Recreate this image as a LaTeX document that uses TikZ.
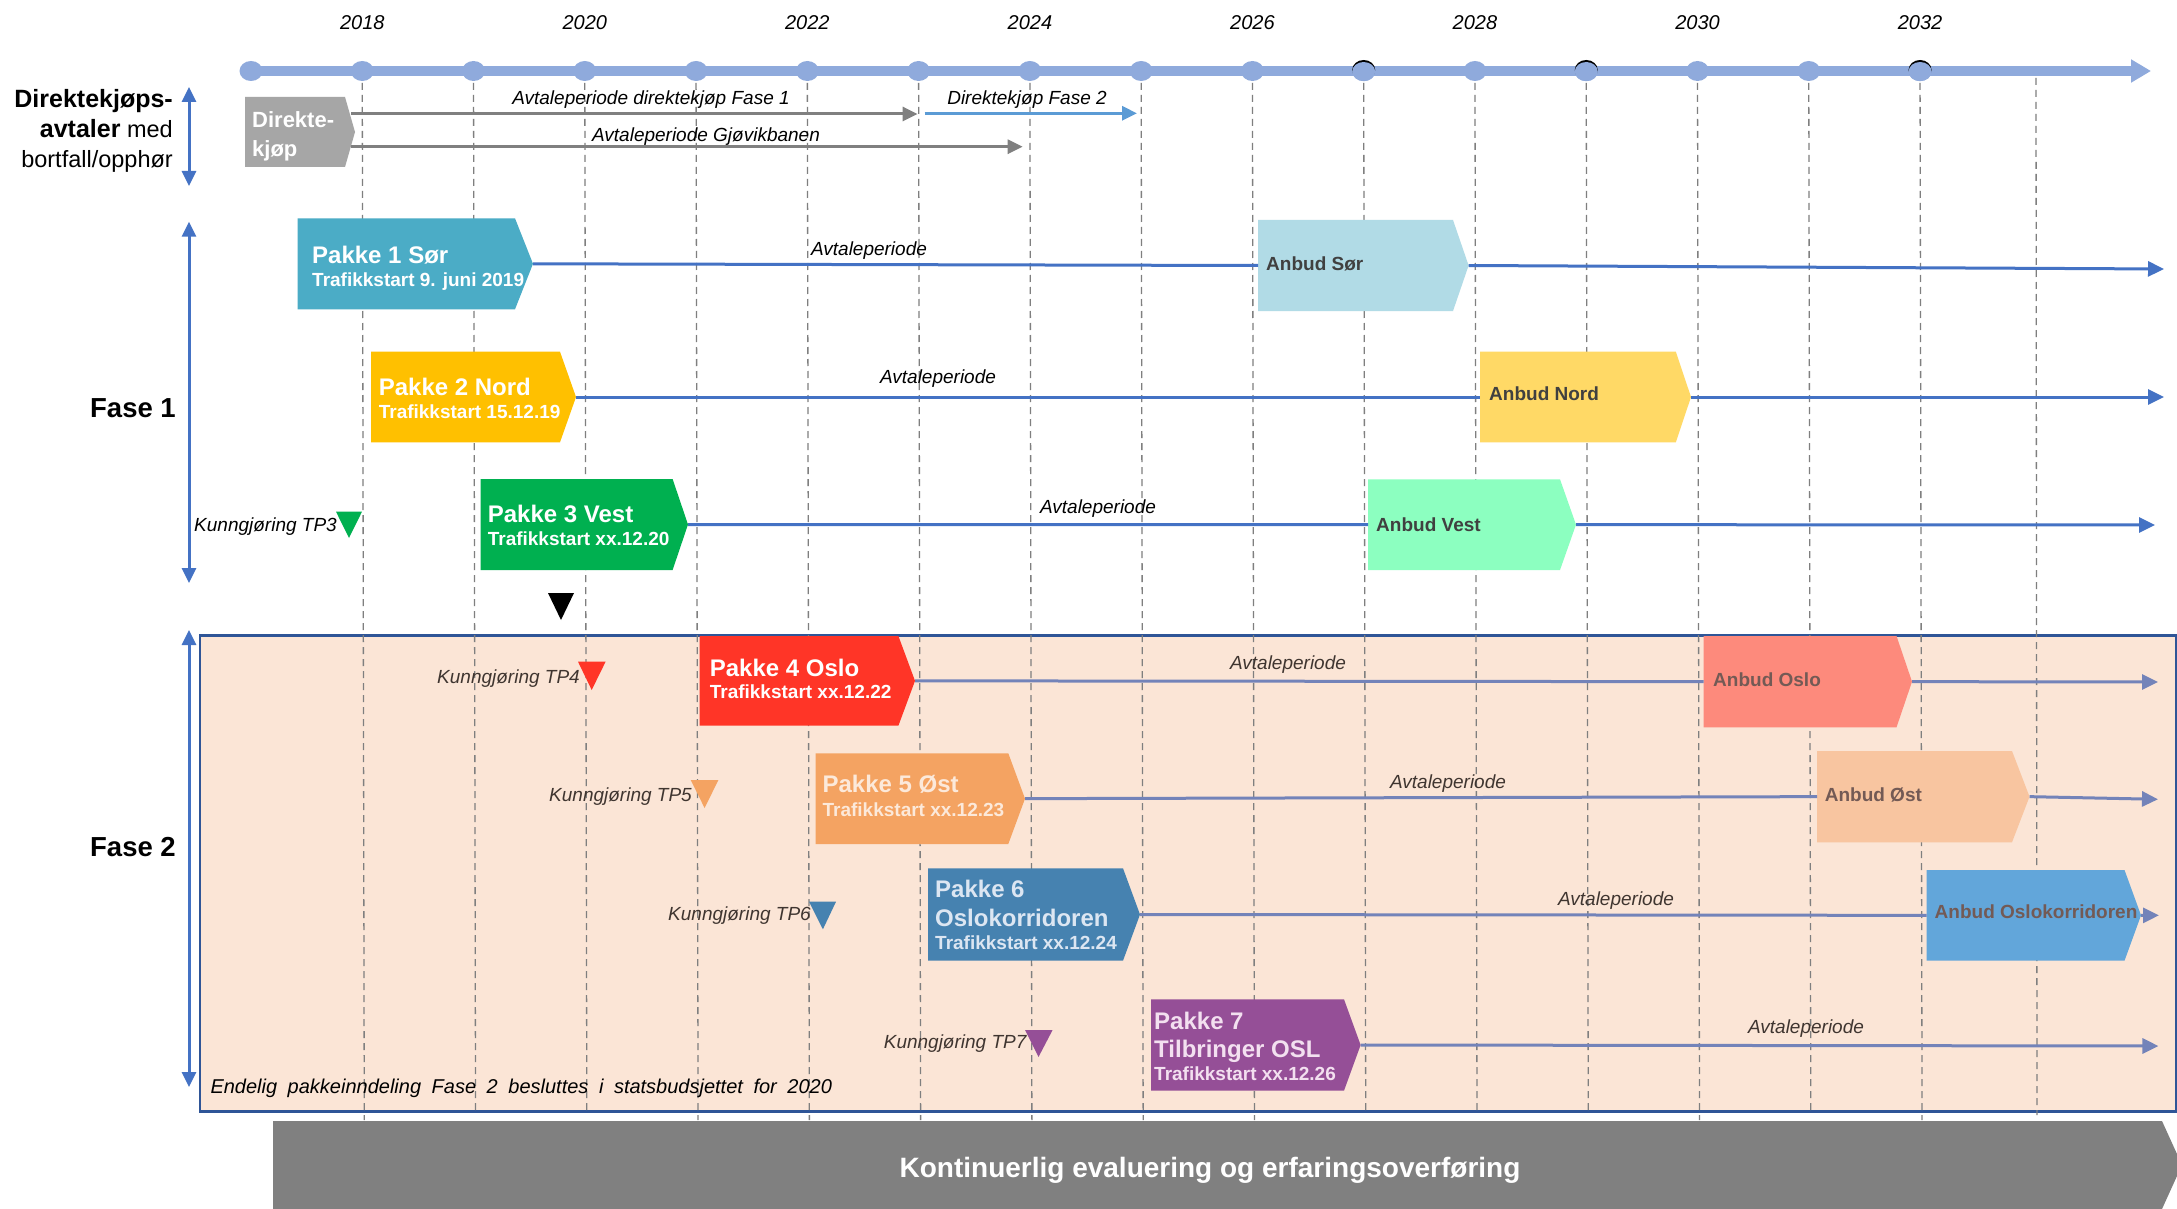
\documentclass[tikz,border=0pt]{standalone}
\usepackage{fontspec}
\setmainfont{Liberation Sans}
\newfontfamily\widefont[WordSpace=1.9]{Liberation Sans}
\usetikzlibrary{arrows.meta,calc,shapes.geometric}
\newcommand{\myfs}[1]{\fontsize{#1}{#1}\selectfont}
\definecolor{tlc}{HTML}{8FAADC}
\definecolor{dkgray}{HTML}{A6A6A6}
\definecolor{garr}{HTML}{808080}
\definecolor{bluea}{HTML}{4472C4}
\definecolor{lbluea}{HTML}{5B9BD5}
\definecolor{f2line}{HTML}{7383B9}
\definecolor{f2fill}{HTML}{FBE5D6}
\definecolor{f2border}{HTML}{2F5597}
\definecolor{cA}{HTML}{4BACC6}
\definecolor{cB}{HTML}{FFC000}
\definecolor{cC}{HTML}{00B050}
\definecolor{cD}{HTML}{FF3527}
\definecolor{cE}{HTML}{F4A362}
\definecolor{cF}{HTML}{4682B0}
\definecolor{cG}{HTML}{954F97}
\definecolor{aA}{HTML}{B1DBE6}
\definecolor{aB}{HTML}{FFD966}
\definecolor{aC}{HTML}{8CFFC0}
\definecolor{aD}{HTML}{FD8A7C}
\definecolor{aE}{HTML}{F8C5A0}
\definecolor{aF}{HTML}{62A6DA}
\definecolor{anbtxt}{HTML}{404040}
\definecolor{anbtxtb}{HTML}{735A55}
\definecolor{f2txt}{HTML}{3F3530}
\definecolor{paleE}{HTML}{FCE9DA}
\definecolor{paleF}{HTML}{DCE6F2}
\definecolor{paleG}{HTML}{F3E0F0}
\definecolor{dashc}{HTML}{7F7F7F}
\newcommand{\pentbox}[7]{%
  \node[inner sep=0pt,outer sep=0pt,minimum width={(#4-#2)*1pt},minimum height={(#6-#3)*1pt},anchor=north west] (#1) at (#2,#3) {};
  \fill[#7] (#1.north west) -- (#1.north east) -- (#5,{(#3+#6)/2}) -- (#1.south east) -- (#1.south west) -- cycle;
  \coordinate (#1-tip) at (#5,{(#3+#6)/2});
}
\tikzset{
  ttl/.style={anchor=base west,inner sep=0pt,font=\bfseries\myfs{24},text=white},
  sub/.style={anchor=base west,inner sep=0pt,font=\bfseries\myfs{19},text=white},
  anb/.style={anchor=base west,inner sep=0pt,font=\bfseries\myfs{19},text=anbtxt},
  per/.style={anchor=base,inner sep=0pt,font=\itshape\myfs{19}},
  kun/.style={anchor=base east,inner sep=0pt,font=\itshape\myfs{19}},
  yr/.style={anchor=base,inner sep=0pt,font=\itshape\myfs{20}},
  barr/.style={bluea,line width=3pt},
  farr/.style={f2line,line width=3pt},
  tip/.style={-{Triangle[length=16pt,width=15pt]}},
  varr/.style={bluea,line width=3pt,{Triangle[length=15pt,width=14pt]}-{Triangle[length=15pt,width=14pt]}},
  dotn/.style={ellipse,fill=tlc,minimum width=23pt,minimum height=20pt,inner sep=0pt},
}
\begin{document}
\begin{tikzpicture}[x=1pt,y=-1pt]
\useasboundingbox (0,0) rectangle (2177,1209);
\fill[white] (0,0) rectangle (2177,1209);
% Fase 2 background box
\node[fill=f2fill,draw=f2border,line width=2.5pt,inner sep=0pt,minimum width=1976pt,minimum height=475.7pt,anchor=north west] (f2box) at (198.5,634.3) {};
% dashed guide lines
\foreach \i/\ye in {1/1120,2/1110,3/1110,4/1120,5/1120,6/1120,7/1120,8/1120,9/1120,10/1110,11/1110,12/1110,13/1120,14/1110,15/1120}
  \draw[dashc,line width=1.3pt,dash pattern=on 7pt off 5pt] ({251+111.27*\i},83) -- ({251+111.27*\i+2},\ye);
\draw[dashc,line width=1.3pt,dash pattern=on 7pt off 5pt] (2036,78) -- (2037,1115);
% timeline
\coordinate (tlend) at (2151,71);
\draw[tlc,line width=10pt,-{Triangle[length=20pt,width=22pt]}] (251,71) -- (tlend);
\foreach \i in {0,...,15} {
  \node[dotn] (d\i) at ({251+111.27*\i},71) {};
}
\foreach \i in {10,12,15} {
  \fill[black] ({251+111.27*\i},70) ellipse (11.5pt and 10pt);
  \fill[tlc] ({251+111.27*\i},71.6) ellipse (11.5pt and 9.6pt);
}
\foreach \i/\y in {1/2018,3/2020,5/2022,7/2024,9/2026,11/2028,13/2030,15/2032} {
  \node[yr] (yr\y) at ({251+111.27*(\i-1)+111.27},29.5) {\y};
}
% left labels
\node[anchor=base east,inner sep=0pt,font=\bfseries\myfs{25}] (lab1) at (173,108) {Direktekjøps-};
\node[anchor=base east,inner sep=0pt] (lab2) at (173,138) {{\bfseries\myfs{25}avtaler}{\myfs{23.5} med}};
\node[anchor=base east,inner sep=0pt,font=\myfs{23.5}] (lab3) at (173,168) {bortfall/opphør};
\node[anchor=base east,inner sep=0pt,font=\bfseries\myfs{27.5}] (fase1) at (176,417) {Fase 1};
\node[anchor=base east,inner sep=0pt,font=\bfseries\myfs{27.5}] (fase2) at (176,856) {Fase 2};
\coordinate (va1) at (189,87); \coordinate (va2) at (189,186);
\coordinate (vb1) at (189,221.7); \coordinate (vb2) at (189,583);
\coordinate (vc1) at (189,630); \coordinate (vc2) at (189,1087);
\draw[varr] (va1) -- (va2);
\draw[varr] (vb1) -- (vb2);
\draw[varr] (vc1) -- (vc2);
% Direktekjop row
\pentbox{dk}{245}{97}{345}{355}{167}{dkgray}
\node[anchor=base west,inner sep=0pt,font=\bfseries\myfs{22},text=white] (dkt1) at (252,128) {Direkte-};
\node[anchor=base west,inner sep=0pt,font=\bfseries\myfs{22},text=white] (dkt2) at (252,157) {kjøp};
\coordinate (g1e) at (917.6,114);
\coordinate (g2e) at (1022.7,146.7);
\coordinate (b0s) at (924.7,113.3);
\coordinate (b0e) at (1137,113.3);
\draw[garr,line width=3pt,-{Triangle[length=15pt,width=14pt]}] ([xshift=6pt,yshift=18pt]dk.east) -- (g1e);
\draw[garr,line width=3pt,-{Triangle[length=15pt,width=14pt]}] ([xshift=6pt,yshift=-14.7pt]dk.east) -- (g2e);
\draw[lbluea,line width=3pt,-{Triangle[length=15pt,width=14pt]}] (b0s) -- (b0e);
\node[per] (lg1) at (651,105) {Avtaleperiode direktekjøp Fase 1};
\node[per] (lg2) at (706,141.5) {Avtaleperiode Gjøvikbanen};
\node[per] (lb0) at (1027,105) {Direktekjøp Fase 2};
% Fase 1 rows
\pentbox{p1}{297.5}{218.3}{515}{533}{309.3}{cA}
\node[ttl] (p1a) at (312,264) {Pakke 1 Sør};
\node[sub] (p1b) at (312,286) {Trafikkstart 9. juni 2019};
\pentbox{p2}{371}{351.7}{560}{576}{442.3}{cB}
\node[ttl] (p2a) at (378.6,395) {Pakke 2 Nord};
\node[sub] (p2b) at (378.6,418) {Trafikkstart 15.12.19};
\pentbox{p3}{480.5}{479}{672.6}{688}{570}{cC}
\node[ttl] (p3a) at (487.6,522.7) {Pakke 3 Vest};
\node[sub] (p3b) at (487.6,545.7) {Trafikkstart xx.12.20};
\pentbox{as}{1258}{220}{1453}{1468.6}{311}{aA}
\node[anb] (ast) at (1266,270) {Anbud Sør};
\pentbox{an}{1480}{351.7}{1675.8}{1691}{442.3}{aB}
\node[anb] (ant) at (1489,400) {Anbud Nord};
\pentbox{av}{1368}{479.3}{1560}{1576}{570}{aC}
\node[anb] (avt) at (1376,531.7) {Anbud Vest};
\coordinate (e1) at (2164,269);
\coordinate (e2) at (2164,397);
\coordinate (e3) at (2155,525);
\draw[barr] (p1-tip) -- (as.west);
\draw[barr,tip] (as-tip) -- (e1);
\draw[barr] (p2-tip) -- (an.west);
\draw[barr,tip] (an-tip) -- (e2);
\draw[barr] (p3-tip) -- (av.west);
\draw[barr,tip] (av-tip) -- (e3);
\node[per] (l1) at (869,255) {Avtaleperiode};
\node[per] (l2) at (938,383) {Avtaleperiode};
\node[per] (l3) at (1098,513) {Avtaleperiode};
% Kunngjoring TP3 and black marker
\fill[cC] (336,511.7) -- (362,511.7) -- (349,538) -- cycle;
\node[kun] (k3) at (337,531) {Kunngjøring TP3};
\fill[black] (548,593) -- (574,593) -- (561,620) -- cycle;
% Fase 2 rows
\pentbox{p4}{699.7}{636}{898.4}{915}{725.7}{cD}
\node[ttl] (p4a) at (709.6,676.7) {Pakke 4 Oslo};
\node[sub] (p4b) at (709.6,698.3) {Trafikkstart xx.12.22};
\pentbox{p5}{815.7}{753.3}{1008.3}{1025}{844}{cE}
\node[ttl,text=paleE] (p5a) at (822.4,792.7) {Pakke 5 Øst};
\node[sub,text=paleE] (p5b) at (822.4,816) {Trafikkstart xx.12.23};
\pentbox{p6}{928}{868.3}{1123}{1140}{960.7}{cF}
\node[ttl,text=paleF] (p6a) at (935,897.3) {Pakke 6};
\node[ttl,text=paleF] (p6b) at (935,926.7) {Oslokorridoren};
\node[sub,text=paleF] (p6c) at (935,949.3) {Trafikkstart xx.12.24};
\pentbox{p7}{1151}{999.3}{1344}{1360.6}{1090.7}{cG}
\node[ttl,text=paleG] (p7a) at (1154,1029) {Pakke 7};
\node[ttl,text=paleG] (p7b) at (1154,1057.3) {Tilbringer OSL};
\node[sub,text=paleG] (p7c) at (1154,1080) {Trafikkstart xx.12.26};
\pentbox{ao}{1703.6}{636}{1896.5}{1912}{727.3}{aD}
\node[anb,text=anbtxtb] (aot) at (1713,686) {Anbud Oslo};
\pentbox{ae}{1817}{751}{2012}{2029.5}{842.3}{aE}
\node[anb,text=anbtxtb] (aet) at (1824.6,801.7) {Anbud Øst};
\pentbox{ak}{1926.6}{870}{2124.5}{2141}{960.7}{aF}
\node[anb,text=anbtxtb] (akt) at (1934.5,918.3) {Anbud Oslokorridoren};
\coordinate (e4) at (2158,682);
\coordinate (e5) at (2158,799.3);
\coordinate (e6) at (2159,915.3);
\coordinate (e7) at (2158.4,1046);
\draw[farr] (p4-tip) -- (ao.west);
\draw[farr,tip] (ao-tip) -- (e4);
\draw[farr] (p5-tip) -- (ae.west);
\draw[farr,tip] (ae-tip) -- (e5);
\draw[farr] (p6-tip) -- (ak.west);
\draw[farr,tip] (ak-tip) -- (e6);
\draw[farr,tip] (p7-tip) -- (e7);
\node[per,text=f2txt] (l4) at (1288,669.3) {Avtaleperiode};
\node[per,text=f2txt] (l5) at (1448,788.3) {Avtaleperiode};
\node[per,text=f2txt] (l6) at (1616,905) {Avtaleperiode};
\node[per,text=f2txt] (l7) at (1806,1033.3) {Avtaleperiode};
\fill[cD] (578,661.7) -- (605.6,661.7) -- (591.7,690) -- cycle;
\node[kun,text=f2txt] (k4) at (580,683) {Kunngjøring TP4};
\fill[cE] (690.7,780) -- (718.4,780) -- (704.6,808) -- cycle;
\node[kun,text=f2txt] (k5) at (692,801.7) {Kunngjøring TP5};
\fill[cF] (809,901.7) -- (836,901.7) -- (822.9,929.3) -- cycle;
\node[kun,text=f2txt] (k6) at (811,920.7) {Kunngjøring TP6};
\fill[cG] (1025,1030) -- (1052.6,1030) -- (1038.5,1057) -- cycle;
\node[kun,text=f2txt] (k7) at (1026.6,1048) {Kunngjøring TP7};
\node[anchor=base west,inner sep=0pt,font=\widefont\itshape\myfs{20}] (endl) at (210.3,1093.3) {Endelig pakkeinndeling Fase 2 besluttes i statsbudsjettet for 2020};
% bottom bar
\fill[garr] (273,1121) -- (2162,1121) -- (2182,1165) -- (2162,1209) -- (273,1209) -- cycle;
\node[anchor=base,inner sep=0pt,font=\bfseries\myfs{28},text=white] (kont) at (1210,1177) {Kontinuerlig evaluering og erfaringsoverføring};
\end{tikzpicture}
\end{document}
